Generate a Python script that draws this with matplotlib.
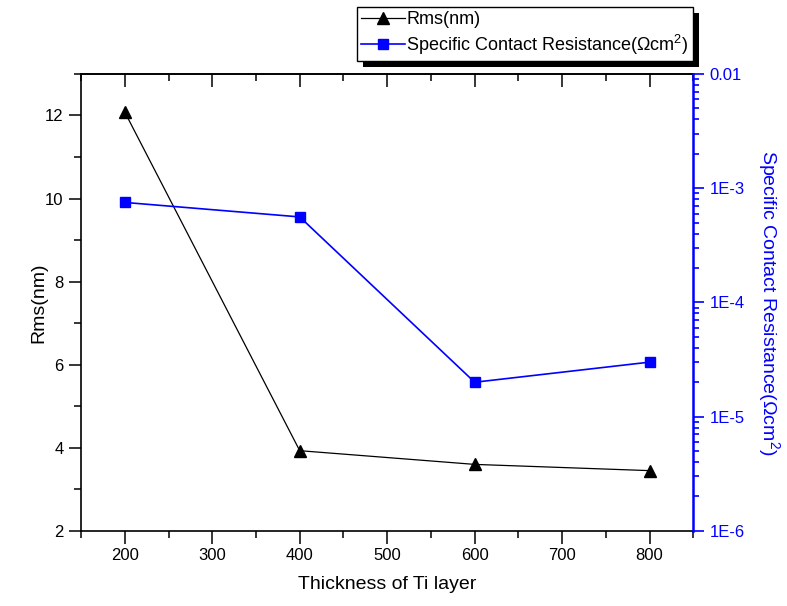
import matplotlib
matplotlib.use("Agg")
import matplotlib.pyplot as plt
from matplotlib.ticker import MultipleLocator, FixedLocator, FuncFormatter, LogLocator, NullFormatter
from matplotlib.patches import Rectangle

plt.rcParams['font.family'] = ['Liberation Sans', 'DejaVu Sans']
plt.rcParams['mathtext.fontset'] = 'custom'
plt.rcParams['mathtext.rm'] = 'Liberation Sans'

# data
thickness = [200, 400, 600, 800]
rms = [12.08, 3.93, 3.6, 3.45]
contact_res = [7.5e-4, 5.6e-4, 2.0e-5, 3.0e-5]

right_tick_vals = [1e-6, 1e-5, 1e-4, 1e-3, 1e-2]
right_tick_text = ['1E-6', '1E-5', '1E-4', '1E-3', '0.01']

fig = plt.figure(figsize=(7.87, 6.06), dpi=100)
ax = fig.add_axes([0.103, 0.124, 0.778, 0.754])
ax2 = ax.twinx()

l1, = ax.plot(thickness, rms, color='black', lw=0.9, marker='^', ms=9,
              label='Rms(nm)')
l2, = ax2.plot(thickness, contact_res, color='blue', lw=1.2, marker='s', ms=7,
               label='Specific Contact Resistance($\\Omega$cm$^2$)')

ax.set_xlim(150, 850)
ax.set_ylim(2, 13)
ax.xaxis.set_major_locator(MultipleLocator(100))
ax.xaxis.set_minor_locator(MultipleLocator(50))
ax.yaxis.set_major_locator(MultipleLocator(2))
ax.yaxis.set_minor_locator(MultipleLocator(1))
ax.tick_params(which='major', direction='out', length=9, width=1.1, labelsize=12)
ax.tick_params(which='minor', direction='out', length=5, width=1.1)
ax.set_xlabel('Thickness of Ti layer', fontsize=14, labelpad=9)
ax.set_ylabel('Rms(nm)', fontsize=14, labelpad=-2)
for s in ['left', 'bottom', 'top']:
    ax.spines[s].set_linewidth(1.2)
ax.spines['right'].set_visible(False)

top = ax.secondary_xaxis('top')
top.xaxis.set_major_locator(MultipleLocator(100))
top.xaxis.set_minor_locator(MultipleLocator(50))
top.tick_params(which='major', direction='in', length=9, width=1.1, labeltop=False)
top.tick_params(which='minor', direction='in', length=5, width=1.1)
top.spines['top'].set_linewidth(1.2)

ax2.set_yscale('log')
ax2.set_ylim(1e-6, 1e-2)
ax2.yaxis.set_major_locator(FixedLocator(right_tick_vals))
ax2.yaxis.set_major_formatter(FuncFormatter(
    lambda v, p: right_tick_text[right_tick_vals.index(min(right_tick_vals, key=lambda t: abs(t - v) / t))]))
ax2.yaxis.set_minor_locator(LogLocator(base=10, subs=range(2, 10)))
ax2.yaxis.set_minor_formatter(NullFormatter())
ax2.tick_params(which='major', direction='out', length=8, width=1.2, colors='blue', labelsize=12)
ax2.tick_params(which='minor', direction='out', length=4, width=1.2, colors='blue')
ax2.spines['right'].set_color('blue')
ax2.spines['right'].set_linewidth(1.8)
for s in ['left', 'bottom', 'top']:
    ax2.spines[s].set_visible(False)
ax2.set_ylabel('Specific Contact Resistance($\\Omega$cm$^2$)', fontsize=14,
               color='blue', rotation=270, labelpad=27)

leg = fig.legend([l1, l2], [l1.get_label(), l2.get_label()], loc='lower right',
                 bbox_to_anchor=(0.8806, 0.899), borderaxespad=0, fontsize=13,
                 frameon=True, fancybox=False, edgecolor='black', framealpha=1,
                 handlelength=2.4, handletextpad=0.1, borderpad=0.25,
                 labelspacing=0.25)
leg.get_frame().set_linewidth(1.0)
leg.set_zorder(10)

# black drop shadow behind legend box
fig.canvas.draw()
bb = leg.get_window_extent()
inv = fig.transFigure.inverted()
(x0, y0) = inv.transform((bb.x0 + 6, bb.y0 - 6))
(x1, y1) = inv.transform((bb.x1 + 6, bb.y1 - 6))
fig.add_artist(Rectangle((x0, y0), x1 - x0, y1 - y0, transform=fig.transFigure,
                         facecolor='black', edgecolor='none', zorder=9))

fig.savefig('out.png', dpi=100)
